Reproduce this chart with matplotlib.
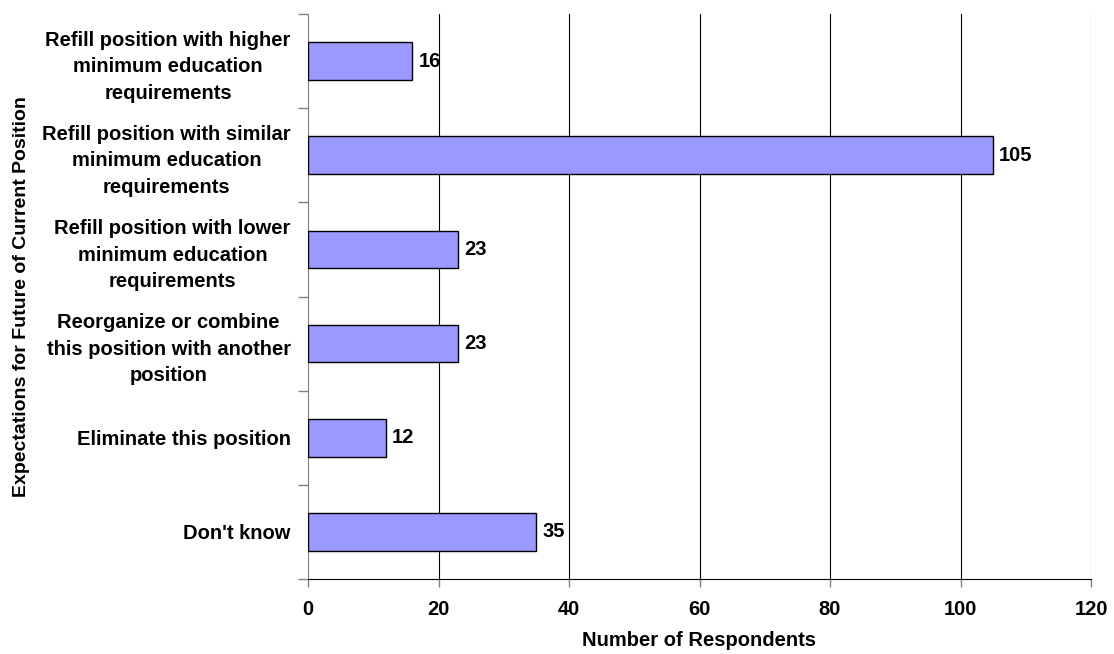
import matplotlib
matplotlib.use("Agg")
import matplotlib.pyplot as plt

plt.rcParams['font.family'] = ['Liberation Sans', 'DejaVu Sans']
plt.rcParams['font.weight'] = 'bold'

categories = [
    "Refill position with higher\nminimum education\nrequirements",
    "Refill position with similar\nminimum education\nrequirements",
    "Refill position with lower\nminimum education\nrequirements",
    "Reorganize or combine\nthis position with another\nposition",
    "Eliminate this position",
    "Don't know",
]
respondents = [16, 105, 23, 23, 12, 35]
x_ticks = [0, 20, 40, 60, 80, 100, 120]

FS = 14.5

fig = plt.figure(figsize=(11.14, 6.54), dpi=100)
ax = fig.add_axes([308 / 1114, 1 - 579 / 654, 783 / 1114, 565 / 654])

n = len(categories)
ypos = list(range(n))
ax.barh(ypos, respondents, height=0.4, color='#9999FF', edgecolor='black',
        linewidth=1.0, zorder=3)
for y, v in zip(ypos, respondents):
    ax.text(v + 0.9, y, str(v), va='center', ha='left', fontsize=FS,
            fontweight='bold', zorder=4)

ax.set_xlim(0, 120)
ax.set_ylim(n - 0.5, -0.5)
ax.set_xticks(x_ticks)
ax.set_xticklabels([str(t) for t in x_ticks], fontsize=FS, fontweight='bold')
for t in x_ticks[1:]:
    ax.axvline(t, color='black' if t < 120 else '#808080', linewidth=0.8,
               zorder=1)

ax.set_yticks(ypos)
ax.set_yticklabels(categories, fontsize=FS, fontweight='bold',
                   multialignment='center', linespacing=1.5)
ax.set_yticks([i - 0.5 for i in range(n + 1)], minor=True)
ax.tick_params(axis='y', which='major', length=0, pad=12.5)
ax.tick_params(axis='y', which='minor', length=7, color='#808080', width=1)
ax.tick_params(axis='x', length=6, color='#808080', width=1, pad=9)

for s in ['top', 'right']:
    ax.spines[s].set_visible(False)
ax.spines['left'].set_color('#808080')
ax.spines['bottom'].set_color('black')

ax.set_xlabel("Number of Respondents", fontsize=FS, fontweight='bold',
              labelpad=9)
ax.set_ylabel("Expectations for Future of Current Position", fontsize=14,
              fontweight='bold')
ax.yaxis.set_label_coords(-0.355, 0.5)

fig.savefig("out.png", dpi=100)
